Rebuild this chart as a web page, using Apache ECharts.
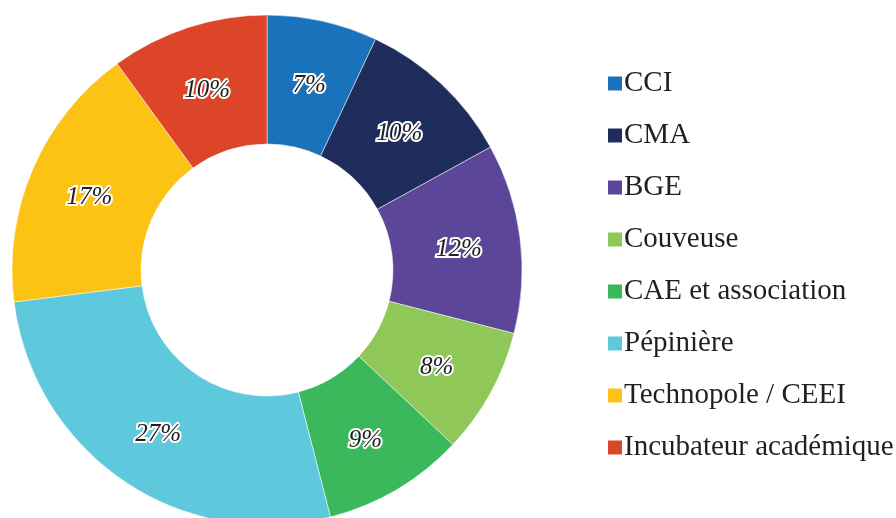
<!DOCTYPE html>
<html>
<head>
  <meta charset="UTF-8">
  <title>Répartition</title>
  <script src="https://cdn.jsdelivr.net/npm/echarts@6/dist/echarts.min.js"></script>
  <style>
    html, body { margin: 0; padding: 0; background: #fff; }
  </style>
</head>
<body>
<div id="main" style="width: 896px;height:518px;"></div>
<script type="text/javascript">
  var categories = ['CCI', 'CMA', 'BGE', 'Couveuse', 'CAE et association', 'Pépinière', 'Technopole / CEEI', 'Incubateur académique'];
  var values = [7, 10, 12, 8, 9, 27, 17, 10];
  var colors = ['#1a72bb', '#1f2d5c', '#5b4698', '#8fc759', '#3bb75c', '#5ec9dc', '#fcc314', '#dc4527'];

  var dataList = [];
  for (var i = 0; i < categories.length; i++) {
    dataList.push({ name: categories[i], value: values[i], itemStyle: { color: colors[i] } });
  }

  var myChart = echarts.init(document.getElementById('main'));
  var option = {
    animation: false,
    legend: {
      orient: 'vertical',
      left: 601,
      top: 64,
      itemWidth: 16,
      itemHeight: 16,
      itemGap: 23,
      icon: 'rect',
      textStyle: {
        fontFamily: 'Liberation Serif',
        fontSize: 29,
        lineHeight: 29,
        color: '#231f20',
        padding: [0, 0, 0, -4]
      },
      data: categories
    },
    series: [{
      type: 'pie',
      center: [267, 270],
      radius: [126, 255],
      startAngle: 90,
      clockwise: true,
      itemStyle: { borderColor: '#fff', borderWidth: 0.5 },
      label: {
        position: 'inside',
        formatter: '{c}%',
        fontFamily: 'Liberation Serif',
        fontStyle: 'italic',
        fontSize: 25,
        color: '#222',
        textBorderColor: '#fff',
        textBorderWidth: 4,
        offset: [0, 4]
      },
      labelLine: { show: false },
      data: dataList
    }]
  };
  myChart.setOption(option);
</script>
</body>
</html>
